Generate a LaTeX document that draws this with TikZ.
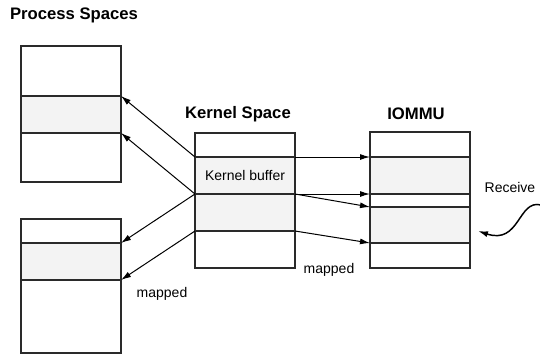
\documentclass[tikz,border=0pt]{standalone}
\usepackage{fontspec}
\setmainfont{Liberation Sans}
\usepackage{tikz}
\usetikzlibrary{arrows.meta}

\definecolor{bandgrey}{HTML}{F3F3F3}
\definecolor{edgegrey}{HTML}{2A2A2A}

\tikzset{
  band/.style={draw=edgegrey, line width=0.8pt, minimum width=75pt, inner sep=0pt, outer sep=0pt, anchor=north west},
  shaded/.style={band, fill=bandgrey},
  heading/.style={font=\fontsize{12.5}{14}\selectfont\bfseries},
  lbl/.style={font=\fontsize{10.5}{12}\selectfont},
  arr/.style={line width=0.75pt, -{Latex[length=7.5pt,width=4.5pt]}}
}

\begin{document}
\begin{tikzpicture}[x=0.75pt,y=-0.75pt]
\useasboundingbox (0,0) rectangle (540,354);
% process spaces
\node[band, minimum height=37.5pt] (ps1top) at (21,46) {};
\node[shaded, minimum height=27.75pt] (ps1mid) at (21,96) {};
\node[band, minimum height=36.75pt] (ps1bot) at (21,133) {};
%
\node[band, minimum height=18pt] (ps2top) at (21,219) {};
\node[shaded, minimum height=27.75pt] (ps2mid) at (21,243) {};
\node[band, minimum height=54.75pt] (ps2bot) at (21,280) {};
% kernel space
\node[band, minimum height=18pt] (ktop) at (195,133) {};
\node[shaded, minimum height=27.75pt, lbl] (kbuf) at (195,157) {Kernel buffer};
\node[shaded, minimum height=27.75pt] (kbuf2) at (195,194) {};
\node[band, minimum height=27.75pt] (kbot) at (195,231) {};
% iommu
\node[band, minimum height=18.75pt] (iotop) at (370,132) {};
\node[shaded, minimum height=27.75pt] (iobuf1) at (370,157) {};
\node[band, minimum height=9.75pt] (iogap) at (370,194) {};
\node[shaded, minimum height=27pt] (iobuf2) at (370,207) {};
\node[band, minimum height=18.75pt] (iobot) at (370,243) {};
% headings
\node[heading] (pstitle) at (74,15) {Process Spaces};
\node[heading] (ktitle) at (238,114) {Kernel Space};
\node[heading] (iotitle) at (416,114) {IOMMU};
% mappings
\draw[arr] (kbuf.north west) -- (ps1mid.north east);
\draw[arr] (kbuf.south west) -- (ps1mid.south east);
\draw[arr] (kbuf.south west) -- (ps2mid.north east);
\draw[arr] (kbuf2.south west) -- (ps2mid.south east);
%
\draw[arr] (kbuf.north east) -- (iobuf1.north west);
\draw[arr] (kbuf.south east) -- (iobuf1.south west);
\draw[arr] (kbuf.south east) -- (iobuf2.north west);
\draw[arr] (kbuf2.south east) -- (iobuf2.south west);
%
\node[lbl] (map1) at (329,270) {mapped};
\node[lbl] (map2) at (162,294) {mapped};
% receive
\node[lbl] (recv) at (510,187) {Receive};
\coordinate (wavein) at (541,205);
\coordinate (wavetip) at (478,231);
\draw[arr, line width=1.1pt] (wavein) .. controls (518,199) and (520,245) .. (wavetip);
\end{tikzpicture}
\end{document}
